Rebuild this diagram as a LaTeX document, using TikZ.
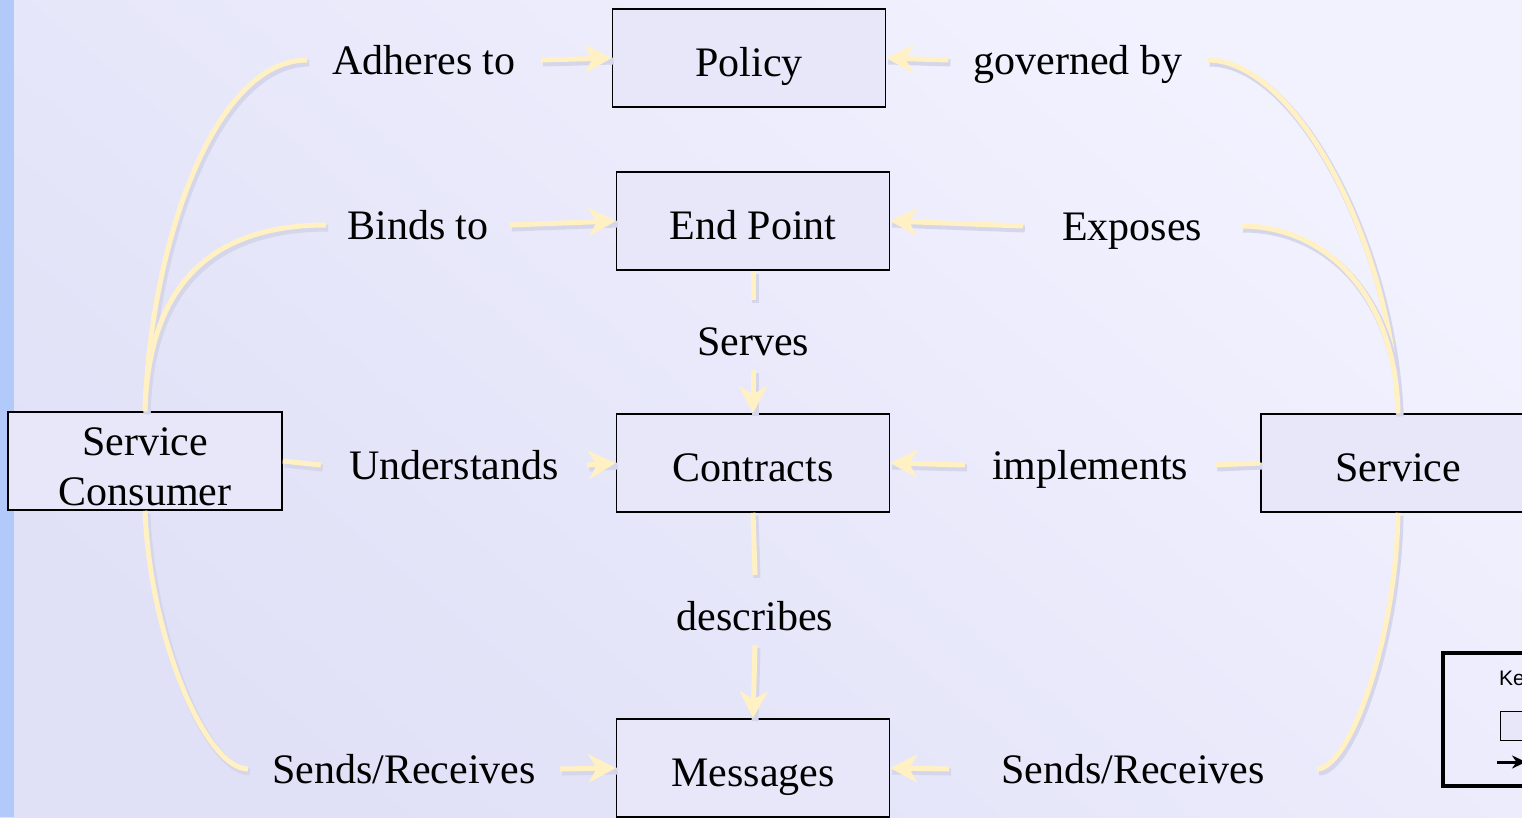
\documentclass[tikz,border=0pt]{standalone}
\usepackage{fontspec}
\setmainfont{Liberation Serif}
\newfontfamily\keyfont{Liberation Sans}
\usetikzlibrary{arrows.meta}
\definecolor{bglight}{HTML}{F2F2FF}
\definecolor{bgdark}{HTML}{E0E0F7}
\definecolor{stripe}{HTML}{B2CAFA}
\definecolor{boxfill}{HTML}{E7E7F9}
\definecolor{cream}{HTML}{FFF1C4}
\definecolor{shade}{HTML}{D6D6EA}
\begin{document}
\begin{tikzpicture}[x=1pt,y=-1pt,
  box/.style={draw=black, line width=1.5pt, fill=boxfill, minimum width=273pt,
    minimum height=98pt, inner sep=0pt, align=center,
    text height=40pt, text depth=4pt,
    font=\fontsize{42}{50}\selectfont},
  lbl/.style={font=\fontsize{42}{50}\selectfont, inner xsep=25pt, inner ysep=14pt,
    text height=38pt, text depth=9pt},
  vlbl/.style={lbl, inner ysep=6pt, text height=49pt, text depth=9pt},
  conn/.style={draw=cream, line width=5pt,
    preaction={draw=shade, line width=7pt, -, transform canvas={shift={(2pt,-3pt)}}}},
  arr/.style={conn, -{Stealth[length=27pt,width=28pt,inset=8pt]}}]

% page, background and left stripe
\useasboundingbox (0,0) rectangle (1522,817);
\clip (0,0) rectangle (1522,817);
\shade[top color=bglight, bottom color=bgdark, shading angle=-40] (0,0) rectangle (1522,817);
\fill[stripe] (0,0) rectangle (14,817);

% concept boxes
\node[box] (pol) at (749,58)  {Policy};
\node[box] (ep)  at (753,221) {End Point};
\node[box] (con) at (753,463) {Contracts};
\node[box] (msg) at (753,768) {Messages};
\node[box, minimum width=274pt, text height=88pt, text depth=0pt] (sc) at (145,461) {Service\\Consumer};
\node[box, minimum width=274pt] (srv) at (1398,463) {Service};

% relation labels
\node[lbl] (adh)  at (424,60)  {Adheres to};
\node[lbl] (gov)  at (1078,60) {governed by};
\node[lbl, inner xsep=21pt] (bind) at (418,225) {Binds to};
\node[lbl, inner xsep=39pt] (exp)  at (1132,226) {Exposes};
\node[vlbl] (srvs) at (753,335) {Serves};
\node[lbl, inner xsep=28pt] (und)  at (454,465) {Understands};
\node[lbl, inner xsep=27pt] (impl) at (1090,465) {implements};
\node[vlbl] (desc) at (755,610) {describes};
\node[lbl, inner xsep=24pt] (sndl) at (404,769) {Sends/Receives};
\node[lbl, inner xsep=52pt] (sndr) at (1133,769) {Sends/Receives};

% consumer side
\draw[conn] (sc.north) .. controls +(5,-162) and +(-95,0) .. (adh.west);
\draw[arr]  (adh.east) -- (pol.west);
\draw[conn] (sc.north) .. controls +(3,-112) and +(-128,0) .. (bind.west);
\draw[arr]  (bind.east) -- (ep.west);
\draw[conn] (sc.east) -- (und.west);
\draw[arr]  (und.east) -- (con.west);
\draw[conn] (sc.south) .. controls +(5,128) and +(-42,0) .. (sndl.west);
\draw[arr]  (sndl.east) -- (msg.west);

% service side
\draw[conn] (srv.north) .. controls +(-5,-164) and +(90,0) .. (gov.east);
\draw[arr]  (gov.west) -- (pol.east);
\draw[conn] (srv.north) .. controls +(-2,-114) and +(88,0) .. (exp.east);
\draw[arr]  (exp.west) -- (ep.east);
\draw[conn] (srv.west) -- (impl.east);
\draw[arr]  (impl.west) -- (con.east);
\draw[conn] (srv.south) .. controls +(-2,128) and +(32,0) .. (sndr.east);
\draw[arr]  (sndr.west) -- (msg.east);

% central chain
\draw[conn] (ep.south) -- (srvs.north);
\draw[arr]  (srvs.south) -- (con.north);
\draw[conn] (con.south) -- (desc.north);
\draw[arr]  (desc.south) -- (msg.north);

% key
\draw[line width=4pt] (1443,653) rectangle (1580,786);
\node[font=\keyfont\fontsize{21}{24}\selectfont, anchor=base west, inner sep=0pt] (key) at (1499,685) {Ke};
\node[draw=black, line width=1pt, fill=boxfill, minimum width=40pt, minimum height=29pt, anchor=north west, inner sep=0pt] (keybox) at (1500,711) {};
\coordinate (ka) at (1497,762);
\coordinate (kb) at (1526,762);
\draw[line width=3pt, -{Stealth[length=14pt,width=13pt]}] (ka) -- (kb);
\end{tikzpicture}
\end{document}
